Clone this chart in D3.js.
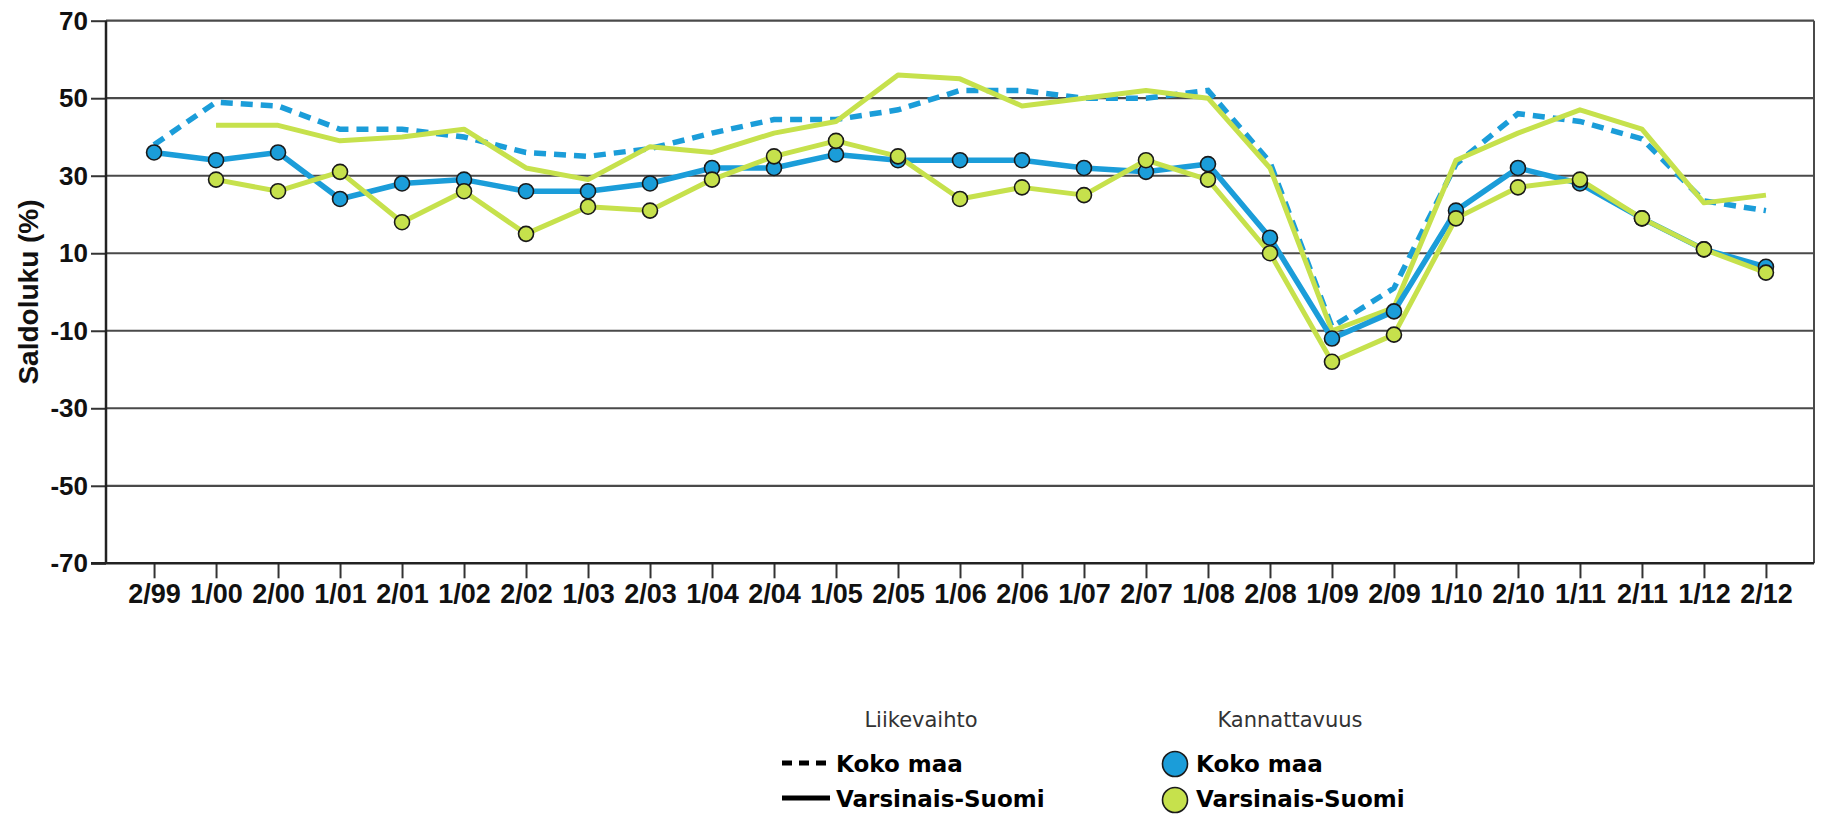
<!DOCTYPE html>
<html>
<head>
<meta charset="utf-8">
<script src="https://cdn.jsdelivr.net/npm/d3@7"></script>
<style>
  body { margin: 0; background: #fff; }
  svg { display: block; }
</style>
</head>
<body>
<svg id="chart" width="1821" height="818"></svg>
<script>
// half-year periods (1 = spring, 2 = autumn survey)
var categories = ['2/99','1/00','2/00','1/01','2/01','1/02','2/02','1/03','2/03','1/04','2/04','1/05','2/05',
  '1/06','2/06','1/07','2/07','1/08','2/08','1/09','2/09','1/10','2/10','1/11','2/11','1/12','2/12'];

// Liikevaihto (turnover) balance, lines only
var liikevaihtoKokoMaa = [38, 49, 48, 42, 42, 40, 36, 35, 37, 41, 44.5, 44.5, 47, 52, 52, 50, 50, 52, 33.5, -9, 1, 33, 46, 44, 39.5, 23.5, 21];
var liikevaihtoVS = [null, 43, 43, 39, 40, 42, 32, 29, 37.5, 36, 41, 44, 56, 55, 48, 50, 52, 50, 32, -10, -4, 34, 41, 47, 42, 23, 25];

// Kannattavuus (profitability) balance, lines with markers
var kannattavuusKokoMaa = [36, 34, 36, 24, 28, 29, 26, 26, 28, 32, 32, 35.5, 34, 34, 34, 32, 31, 33, 14, -12, -5, 21, 32, 28, 19, 11, 6.5];
var kannattavuusVS = [null, 29, 26, 31, 18, 26, 15, 22, 21, 29, 35, 39, 35, 24, 27, 25, 34, 29, 10, -18, -11, 19, 27, 29, 19, 11, 5];

var yTicks = [-70, -50, -30, -10, 10, 30, 50, 70];

var blue = '#1b9dd9', green = '#c6e14c';

var svg = d3.select('#chart');
// plot frame (top/left are window globals, so prefixed names)
var pLeft = 106, pRight = 1814, pTop = 20.7, pBottom = 563.3;

var x = d3.scalePoint().domain(categories).range([pLeft, pRight]).padding(0.775);
var y = d3.scaleLinear().domain([-70, 70]).range([pBottom, pTop]);

// grid lines (70 line doubles as top of frame)
svg.append('g').selectAll('line')
  .data(yTicks.filter(function(d){ return d > -70; }))
  .enter().append('line')
  .attr('x1', pLeft).attr('x2', pRight)
  .attr('y1', function(d){ return y(d); })
  .attr('y2', function(d){ return y(d); })
  .style('stroke', '#4a4a4a')
  .style('stroke-width', '2.2px');

// right border
svg.append('line')
  .attr('x1', pRight).attr('x2', pRight).attr('y1', pTop).attr('y2', pBottom)
  .style('stroke', '#4a4a4a').style('stroke-width', '2px');

// axes - plain hyphen for negatives like the original, not the unicode minus
var yAxis = d3.axisLeft(y).tickValues(yTicks).tickSize(15).tickPadding(3).tickFormat(function(d){ return String(d); });
var gy = svg.append('g').attr('transform', 'translate(' + pLeft + ',0)').call(yAxis);
gy.select('.domain').remove();
gy.append('line').attr('x1', 0).attr('x2', 0).attr('y1', pTop).attr('y2', pBottom)
  .style('stroke', '#222').style('stroke-width', '2.5px');
gy.selectAll('.tick line').style('stroke', '#333').style('stroke-width', '2px');
gy.selectAll('.tick text')
  .style('font-family', '"Liberation Sans", Arial, sans-serif')
  .style('font-weight', 'bold').style('font-size', '26px').style('fill', '#111');

var xAxis = d3.axisBottom(x).tickSize(15).tickPadding(6);
var gx = svg.append('g').attr('transform', 'translate(0,' + pBottom + ')').call(xAxis);
gx.select('.domain').remove();
gx.append('line').attr('x1', pLeft - 15).attr('x2', pRight).attr('y1', 0).attr('y2', 0)
  .style('stroke', '#222').style('stroke-width', '2.5px');
gx.selectAll('.tick line').style('stroke', '#333').style('stroke-width', '2px');
gx.selectAll('.tick text')
  .style('font-family', '"Liberation Sans", Arial, sans-serif')
  .style('font-weight', 'bold').style('font-size', '27px').style('fill', '#111');

// y title
svg.append('text')
  .attr('transform', 'translate(38,292) rotate(-90)')
  .attr('text-anchor', 'middle')
  .style('font-family', '"Liberation Sans", Arial, sans-serif')
  .style('font-weight', 'bold').style('font-size', '28px').style('fill', '#111')
  .text('Saldoluku (%)');

var line = d3.line()
  .defined(function(d){ return d != null; })
  .x(function(d, i){ return x(categories[i]); })
  .y(function(d){ return y(d); });

svg.append('path').datum(liikevaihtoKokoMaa).attr('d', line)
  .style('fill', 'none').style('stroke', blue).style('stroke-width', '5.5px')
  .style('stroke-dasharray', '12,8');

svg.append('path').datum(liikevaihtoVS).attr('d', line)
  .style('fill', 'none').style('stroke', green).style('stroke-width', '5px')
  .style('stroke-linejoin', 'round');

svg.append('path').datum(kannattavuusKokoMaa).attr('d', line)
  .style('fill', 'none').style('stroke', blue).style('stroke-width', '5.5px')
  .style('stroke-linejoin', 'round');

svg.append('path').datum(kannattavuusVS).attr('d', line)
  .style('fill', 'none').style('stroke', green).style('stroke-width', '5px')
  .style('stroke-linejoin', 'round');

function markers(values, color) {
  svg.append('g').selectAll('circle')
    .data(values.map(function(v, i){ return {v: v, c: categories[i]}; })
      .filter(function(d){ return d.v != null; }))
    .enter().append('circle')
    .attr('cx', function(d){ return x(d.c); })
    .attr('cy', function(d){ return y(d.v); })
    .attr('r', 7.5)
    .style('fill', color).style('stroke', '#1a1a1a').style('stroke-width', '1.6px');
}
markers(kannattavuusKokoMaa, blue);
markers(kannattavuusVS, green);

// legend
var legTitle = { 'font-family': '"DejaVu Sans", Verdana, sans-serif', 'font-size': '21px', 'fill': '#333' };
var legLabel = { 'font-family': '"DejaVu Sans", Verdana, sans-serif', 'font-size': '23px', 'font-weight': 'bold', 'fill': '#000' };
function styled(sel, st) { for (var k in st) sel.style(k, st[k]); return sel; }

styled(svg.append('text').attr('x', 921).attr('y', 727).attr('text-anchor', 'middle').text('Liikevaihto'), legTitle);
styled(svg.append('text').attr('x', 1290).attr('y', 727).attr('text-anchor', 'middle').text('Kannattavuus'), legTitle);

svg.append('line').attr('x1', 782).attr('x2', 830).attr('y1', 763).attr('y2', 763)
  .style('stroke', '#000').style('stroke-width', '5px').style('stroke-dasharray', '10,7');
svg.append('line').attr('x1', 782).attr('x2', 830).attr('y1', 798).attr('y2', 798)
  .style('stroke', '#000').style('stroke-width', '5px');
styled(svg.append('text').attr('x', 836).attr('y', 772).text('Koko maa'), legLabel);
styled(svg.append('text').attr('x', 836).attr('y', 807).text('Varsinais-Suomi'), legLabel);

svg.append('circle').attr('cx', 1175).attr('cy', 764).attr('r', 12.5)
  .style('fill', blue).style('stroke', '#1a1a1a').style('stroke-width', '1.6px');
svg.append('circle').attr('cx', 1175).attr('cy', 800).attr('r', 12.5)
  .style('fill', green).style('stroke', '#1a1a1a').style('stroke-width', '1.6px');
styled(svg.append('text').attr('x', 1196).attr('y', 772).text('Koko maa'), legLabel);
styled(svg.append('text').attr('x', 1196).attr('y', 807).text('Varsinais-Suomi'), legLabel);
</script>
</body>
</html>
